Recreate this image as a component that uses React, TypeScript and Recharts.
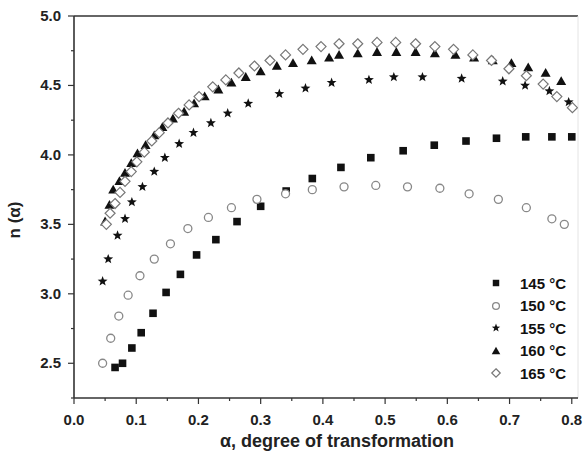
import React from 'react';
import {
  ScatterChart,
  Scatter,
  XAxis,
  YAxis,
  ReferenceLine,
} from 'recharts';

// alpha / n(alpha) values
const alpha145 = [0.066, 0.078, 0.093, 0.108, 0.127, 0.148, 0.171, 0.197, 0.228, 0.262, 0.3, 0.341, 0.383, 0.429, 0.477, 0.529, 0.579, 0.63, 0.679, 0.726, 0.768, 0.8];
const n145 = [2.47, 2.5, 2.61, 2.72, 2.86, 3.01, 3.14, 3.28, 3.39, 3.52, 3.63, 3.74, 3.83, 3.91, 3.98, 4.03, 4.07, 4.1, 4.12, 4.13, 4.13, 4.13];

const alpha150 = [0.046, 0.059, 0.072, 0.087, 0.106, 0.129, 0.155, 0.183, 0.216, 0.253, 0.294, 0.34, 0.383, 0.434, 0.485, 0.536, 0.588, 0.635, 0.682, 0.727, 0.768, 0.788];
const n150 = [2.5, 2.68, 2.84, 2.99, 3.13, 3.25, 3.36, 3.47, 3.55, 3.62, 3.68, 3.72, 3.75, 3.77, 3.78, 3.77, 3.76, 3.72, 3.68, 3.62, 3.54, 3.5];

const alpha155 = [0.046, 0.055, 0.07, 0.082, 0.093, 0.11, 0.129, 0.146, 0.169, 0.192, 0.22, 0.247, 0.28, 0.33, 0.372, 0.414, 0.474, 0.514, 0.56, 0.623, 0.689, 0.725, 0.764, 0.795];
const n155 = [3.09, 3.25, 3.42, 3.54, 3.66, 3.77, 3.88, 3.98, 4.08, 4.16, 4.23, 4.3, 4.37, 4.44, 4.48, 4.52, 4.54, 4.56, 4.56, 4.55, 4.53, 4.5, 4.46, 4.38];

const alpha160 = [0.05, 0.057, 0.063, 0.073, 0.082, 0.092, 0.102, 0.115, 0.129, 0.142, 0.159, 0.177, 0.193, 0.21, 0.232, 0.253, 0.276, 0.3, 0.326, 0.352, 0.382, 0.41, 0.426, 0.456, 0.487, 0.518, 0.549, 0.58, 0.613, 0.643, 0.673, 0.703, 0.73, 0.758, 0.783];
const n160 = [3.52, 3.64, 3.75, 3.81, 3.87, 3.94, 4.01, 4.07, 4.14, 4.2, 4.26, 4.31, 4.37, 4.42, 4.47, 4.52, 4.56, 4.6, 4.64, 4.66, 4.68, 4.7, 4.72, 4.73, 4.74, 4.74, 4.74, 4.73, 4.72, 4.7, 4.68, 4.66, 4.63, 4.59, 4.53];

const alpha165 = [0.052, 0.058, 0.066, 0.074, 0.082, 0.092, 0.101, 0.113, 0.125, 0.137, 0.151, 0.168, 0.185, 0.201, 0.223, 0.244, 0.265, 0.29, 0.315, 0.34, 0.368, 0.397, 0.426, 0.456, 0.487, 0.517, 0.549, 0.58, 0.61, 0.641, 0.671, 0.699, 0.727, 0.754, 0.776, 0.801];
const n165 = [3.5, 3.58, 3.65, 3.73, 3.81, 3.88, 3.95, 4.02, 4.1, 4.16, 4.23, 4.3, 4.36, 4.42, 4.49, 4.54, 4.59, 4.64, 4.68, 4.72, 4.76, 4.78, 4.8, 4.8, 4.81, 4.81, 4.8, 4.78, 4.76, 4.72, 4.68, 4.62, 4.57, 4.51, 4.42, 4.34];

const xTicks = [0, 0.05, 0.1, 0.15, 0.2, 0.25, 0.3, 0.35, 0.4, 0.45, 0.5, 0.55, 0.6, 0.65, 0.7, 0.75, 0.8];
const yTicks = [2.25, 2.5, 2.75, 3, 3.25, 3.5, 3.75, 4, 4.25, 4.5, 4.75, 5];

const toPoints = (xs: number[], ys: number[]) => xs.map((x, i) => ({ x, y: ys[i] }));

const FONT = '"Liberation Sans", Arial, sans-serif';
const AXIS = '#333';

type MarkProps = { cx?: number; cy?: number; k?: number };

const Square = ({ cx = 0, cy = 0, k = 1 }: MarkProps) => (
  <rect x={cx - 3.8 * k} y={cy - 3.8 * k} width={7.6 * k} height={7.6 * k} fill="#111" />
);
const Circle = ({ cx = 0, cy = 0, k = 1 }: MarkProps) => (
  <circle cx={cx} cy={cy} r={4 * k} fill="#fff" stroke="#888" strokeWidth={1.3} />
);
const Star = ({ cx = 0, cy = 0, k = 1 }: MarkProps) => {
  const pts: string[] = [];
  for (let i = 0; i < 10; i++) {
    const r = (i % 2 === 0 ? 5.2 : 2.2) * k;
    const a = -Math.PI / 2 + (i * Math.PI) / 5;
    pts.push(`${cx + r * Math.cos(a)},${cy + r * Math.sin(a)}`);
  }
  return <polygon points={pts.join(' ')} fill="#111" />;
};
const Triangle = ({ cx = 0, cy = 0, k = 1 }: MarkProps) => (
  <polygon
    points={`${cx},${cy - 5 * k} ${cx + 5 * k},${cy + 3.8 * k} ${cx - 5 * k},${cy + 3.8 * k}`}
    fill="#111"
  />
);
const Diamond = ({ cx = 0, cy = 0, k = 1 }: MarkProps) => (
  <polygon
    points={`${cx},${cy - 5 * k} ${cx + 5 * k},${cy} ${cx},${cy + 5 * k} ${cx - 5 * k},${cy}`}
    fill="#fff"
    stroke="#777"
    strokeWidth={1.2}
  />
);

const series = [
  { name: '145 °C', data: toPoints(alpha145, n145), Mark: Square },
  { name: '150 °C', data: toPoints(alpha150, n150), Mark: Circle },
  { name: '155 °C', data: toPoints(alpha155, n155), Mark: Star },
  { name: '160 °C', data: toPoints(alpha160, n160), Mark: Triangle },
  { name: '165 °C', data: toPoints(alpha165, n165), Mark: Diamond },
];

const near = (v: number, step: number) => Math.abs(v / step - Math.round(v / step)) < 1e-6;

const XTick = (props: any) => {
  const { x, y, payload } = props;
  const major = near(payload.value, 0.1);
  return (
    <g>
      <line x1={x} x2={x} y1={y} y2={y + (major ? 6 : 3)} stroke={AXIS} strokeWidth={1.2} />
      {major && (
        <text x={x} y={y + 27} textAnchor="middle" fontFamily={FONT} fontSize={15} fontWeight="bold" fill="#222">
          {payload.value.toFixed(1)}
        </text>
      )}
    </g>
  );
};

const YTick = (props: any) => {
  const { x, y, payload } = props;
  const major = near(payload.value, 0.5);
  return (
    <g>
      <line x1={x} x2={x - (major ? 6 : 3)} y1={y} y2={y} stroke={AXIS} strokeWidth={1.2} />
      {major && (
        <text x={x - 13} y={y + 5} textAnchor="end" fontFamily={FONT} fontSize={15} fontWeight="bold" fill="#222">
          {payload.value.toFixed(1)}
        </text>
      )}
    </g>
  );
};

const YLabel = () => (
  <text
    x={20}
    y={220}
    transform="rotate(-90 20 220)"
    textAnchor="middle"
    fontFamily={FONT}
    fontSize={17}
    fontWeight="bold"
    fill="#222"
  >
    n (α)
  </text>
);

const XLabel = () => (
  <text x={337} y={447} textAnchor="middle" fontFamily={FONT} fontSize={18} fontWeight="bold" fill="#222">
    α, degree of transformation
  </text>
);

const LegendBox = () => (
  <div
    style={{
      position: 'absolute',
      left: 489,
      top: 272,
      fontFamily: FONT,
      fontSize: 15,
      fontWeight: 'bold',
      color: '#111',
      background: '#fff',
    }}
  >
    {series.map((s) => (
      <div key={s.name} style={{ display: 'flex', alignItems: 'center', height: 22.5 }}>
        <svg width={14} height={14} style={{ marginRight: 17 }}>
          <s.Mark cx={7} cy={7} k={0.85} />
        </svg>
        <span>{s.name}</span>
      </div>
    ))}
  </div>
);

export default function App() {
  return (
    <div style={{ position: 'fixed', left: 0, top: 0, width: 585, height: 451, background: '#fff' }}>
      <ScatterChart width={585} height={451} margin={{ top: 16, right: 7, bottom: 0, left: 0 }}>
        <XAxis
          type="number"
          dataKey="x"
          domain={[0, 0.81]}
          ticks={xTicks}
          interval={0}
          allowDataOverflow
          height={53}
          tickSize={0}
          tickMargin={0}
          tickLine={false}
          tick={<XTick />}
          axisLine={{ stroke: AXIS, strokeWidth: 1.6 }}
          label={() => <XLabel />}
        />
        <YAxis
          type="number"
          dataKey="y"
          domain={[2.25, 5]}
          ticks={yTicks}
          interval={0}
          allowDataOverflow
          width={74}
          tickSize={0}
          tickMargin={0}
          tickLine={false}
          tick={<YTick />}
          axisLine={{ stroke: AXIS, strokeWidth: 1.6 }}
          label={() => <YLabel />}
        />
        <ReferenceLine y={5} stroke={AXIS} strokeWidth={1.6} />
        <ReferenceLine x={0.81} stroke="#e4e4e4" strokeWidth={1} />
        {series.map((s) => (
          <Scatter
            key={s.name}
            name={s.name}
            data={s.data}
            shape={(p: any) => <s.Mark cx={p.cx} cy={p.cy} />}
            isAnimationActive={false}
          />
        ))}
      </ScatterChart>
      <LegendBox />
    </div>
  );
}
